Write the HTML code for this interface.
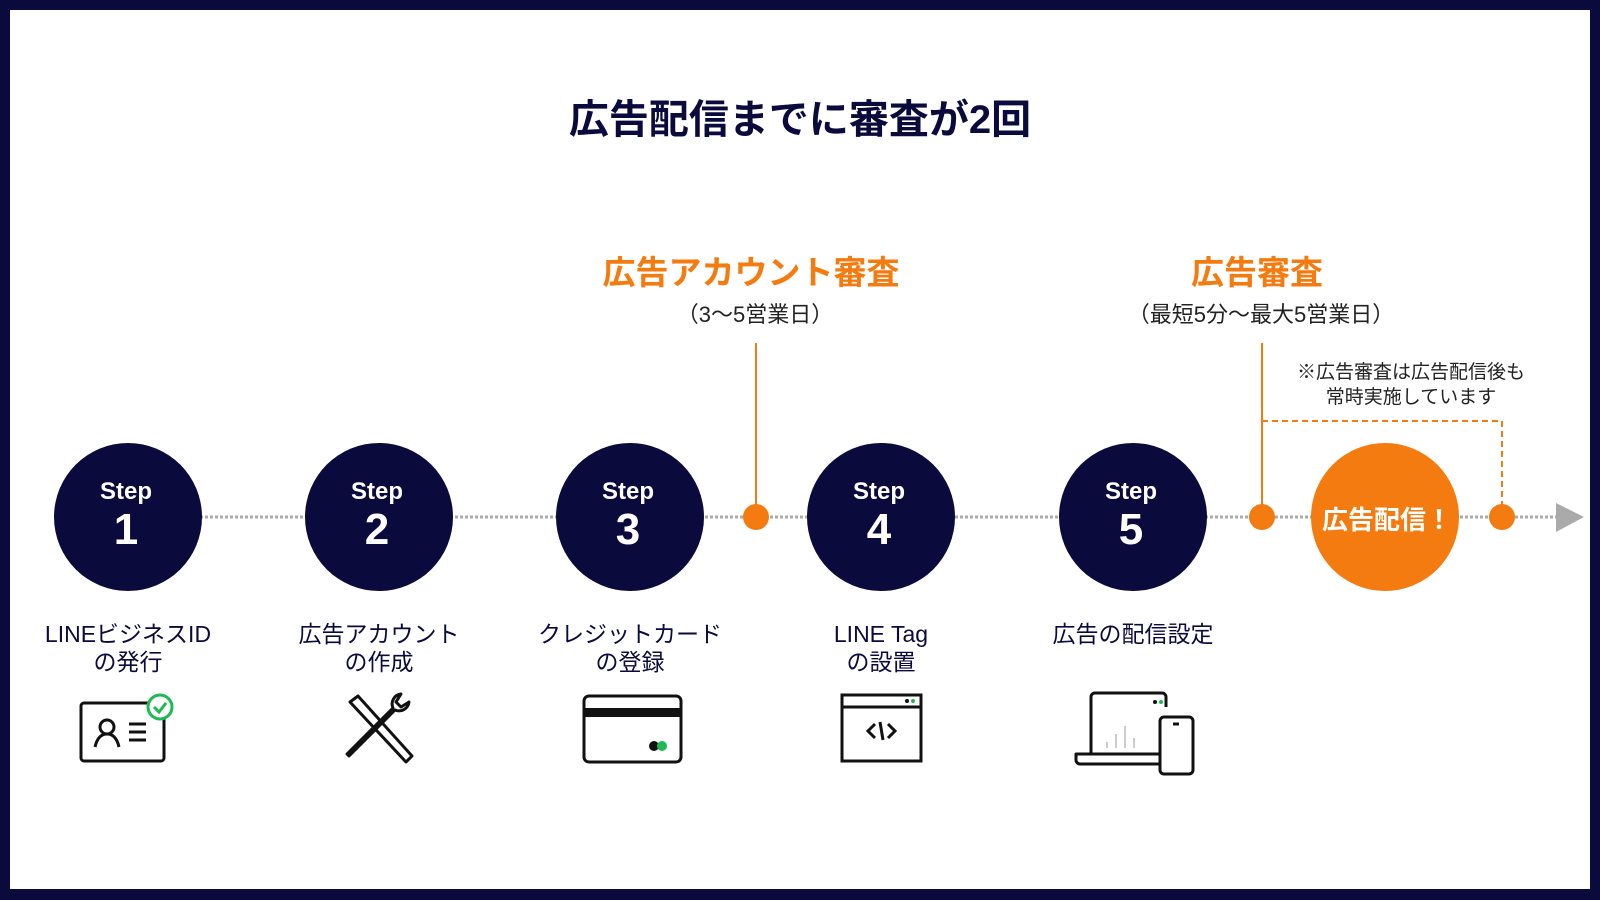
<!DOCTYPE html>
<html><head><meta charset="utf-8"><style>
html,body{margin:0;padding:0;background:#0a0a3c;}
svg{display:block}
text{font-family:"Liberation Sans","Noto Sans CJK JP",sans-serif}
</style></head><body>
<svg width="1600" height="900" viewBox="0 0 1600 900" xmlns="http://www.w3.org/2000/svg">
<rect x="0" y="0" width="1600" height="900" fill="#0a0a3c"/>
<rect x="10" y="10" width="1580" height="879" fill="#ffffff"/>
<text x="800" y="133" text-anchor="middle" font-size="40" font-weight="bold" fill="#0a0a3c">広告配信までに審査が2回</text>

<text x="751" y="284" text-anchor="middle" font-size="33" font-weight="bold" fill="#f47b10">広告アカウント審査</text>
<text x="755" y="322" text-anchor="middle" font-size="22" fill="#222">（3～5営業日）</text>
<text x="1257" y="284" text-anchor="middle" font-size="33" font-weight="bold" fill="#f47b10">広告審査</text>
<text x="1261" y="322" text-anchor="middle" font-size="22" fill="#222">（最短5分～最大5営業日）</text>
<text x="1411" y="378" text-anchor="middle" font-size="19" fill="#222">※広告審査は広告配信後も</text>
<text x="1411" y="403" text-anchor="middle" font-size="19" fill="#222">常時実施しています</text>

<line x1="200" y1="517" x2="1556" y2="517" stroke="#aaa" stroke-width="3" stroke-dasharray="3 2"/>
<polygon points="1556,503 1584,517 1556,532" fill="#aaa"/>

<line x1="756" y1="343" x2="756" y2="517" stroke="#f47b10" stroke-width="2"/>
<line x1="1262" y1="343" x2="1262" y2="517" stroke="#f47b10" stroke-width="2"/>
<polyline points="1262,421 1502,421 1502,517" fill="none" stroke="#f47b10" stroke-width="2" stroke-dasharray="6 4"/>
<circle cx="756" cy="517" r="13" fill="#f47b10"/>
<circle cx="1262" cy="517" r="13" fill="#f47b10"/>
<circle cx="1502" cy="517" r="13" fill="#f47b10"/>

<g fill="#0a0a3c">
<circle cx="128" cy="517" r="74"/><circle cx="379" cy="517" r="74"/><circle cx="630" cy="517" r="74"/><circle cx="881" cy="517" r="74"/><circle cx="1133" cy="517" r="74"/>
</g>
<circle cx="1385" cy="517" r="74" fill="#f47b10"/>
<g fill="#fff" font-weight="bold" text-anchor="middle">
<text x="126" y="499" font-size="24">Step</text><text x="126" y="544" font-size="44">1</text>
<text x="377" y="499" font-size="24">Step</text><text x="377" y="544" font-size="44">2</text>
<text x="628" y="499" font-size="24">Step</text><text x="628" y="544" font-size="44">3</text>
<text x="879" y="499" font-size="24">Step</text><text x="879" y="544" font-size="44">4</text>
<text x="1131" y="499" font-size="24">Step</text><text x="1131" y="544" font-size="44">5</text>
<text x="1387" y="529" font-size="26">広告配信！</text>
</g>

<g fill="#0a0a3c" font-size="23" text-anchor="middle">
<text x="128" y="642">LINEビジネスID</text><text x="128" y="670">の発行</text>
<text x="379" y="642">広告アカウント</text><text x="379" y="670">の作成</text>
<text x="630" y="642">クレジットカード</text><text x="630" y="670">の登録</text>
<text x="881" y="642">LINE Tag</text><text x="881" y="670">の設置</text>
<text x="1133" y="642">広告の配信設定</text>
</g>

<!-- icon 1 -->
<g fill="none" stroke="#111" stroke-width="3">
<rect x="81" y="703" width="83" height="58" rx="3"/>
<circle cx="107" cy="727" r="7"/><path d="M95 747 q3-13 12-13 q9 0 12 13"/>
<line x1="129" y1="724" x2="146" y2="724"/><line x1="129" y1="732" x2="146" y2="732"/><line x1="129" y1="740" x2="146" y2="740"/>
</g>
<circle cx="160" cy="707" r="12" fill="#fff" stroke="#1db954" stroke-width="3"/>
<polyline points="154,707 159,712 166,703" fill="none" stroke="#1db954" stroke-width="3"/>
<!-- icon 2 -->
<g fill="none" stroke="#111" stroke-width="3" stroke-linejoin="round">
<path d="M350 702 l8-6 l54 60 l-6 6 z"/>
<path d="M347 754 l46-46 a10 10 0 0 1 8-14 l-5 8 l5 5 l8-5 a10 10 0 0 1 -14 8 l-46 46 z"/>
</g>
<!-- icon 3 -->
<g fill="none" stroke="#111" stroke-width="3"><rect x="584" y="696" width="97" height="66" rx="5"/></g>
<rect x="584" y="708" width="97" height="9" fill="#111"/>
<circle cx="654" cy="746" r="5" fill="#111"/><circle cx="662" cy="746" r="5" fill="#1db954"/>
<!-- icon 4 -->
<g fill="none" stroke="#111" stroke-width="3"><rect x="842" y="695" width="79" height="66"/><line x1="842" y1="707" x2="921" y2="707"/>
<polyline points="875,724 868,731 875,738"/><polyline points="888,724 895,731 888,738"/><line x1="880" y1="722" x2="883" y2="740"/></g>
<circle cx="907" cy="701" r="2" fill="#111"/><circle cx="913" cy="701" r="2" fill="#1db954"/>
<!-- icon 5 -->
<g fill="none" stroke="#111" stroke-width="3" stroke-linejoin="round">
<path d="M1091 754 v-57 a4 4 0 0 1 4-4 h67 a4 4 0 0 1 4 4 v10"/>
<path d="M1076 754 h84 v10 h-80 a4 4 0 0 1 -4-4 z"/>
<rect x="1160" y="717" width="33" height="57" rx="4" fill="#fff"/>
<line x1="1173" y1="724" x2="1179" y2="724"/>
</g>
<g stroke="#ccc" stroke-width="2"><line x1="1107" y1="742" x2="1107" y2="748"/><line x1="1116" y1="734" x2="1116" y2="748"/><line x1="1125" y1="726" x2="1125" y2="748"/><line x1="1134" y1="738" x2="1134" y2="748"/></g>
<circle cx="1155" cy="702" r="2" fill="#111"/><circle cx="1161" cy="702" r="2" fill="#1db954"/>
</svg>
</body></html>
